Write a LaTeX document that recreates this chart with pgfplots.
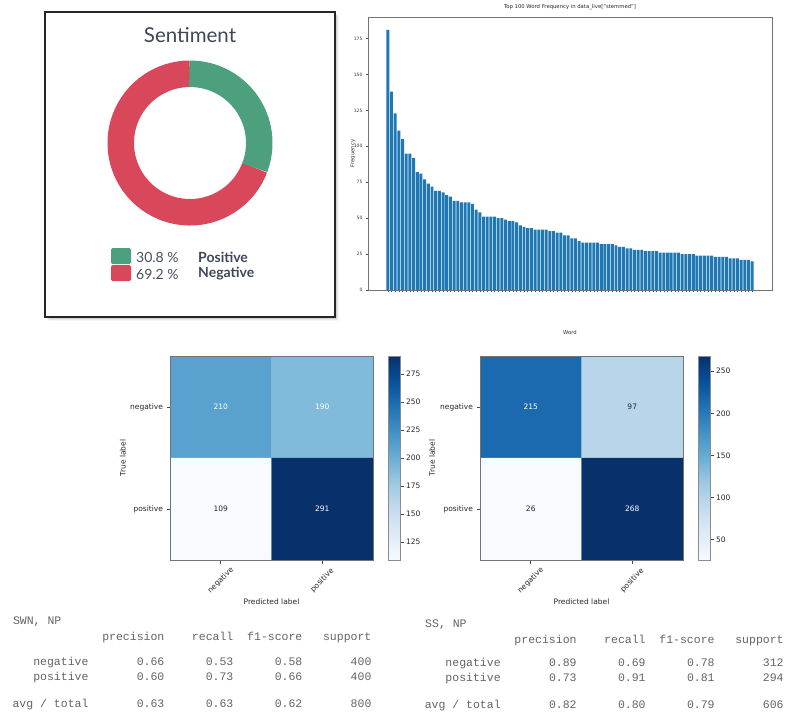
\documentclass[border=0pt]{standalone}
\usepackage{pgfplots}
\pgfplotsset{compat=1.18}
\usepackage{pgfplotstable}
\usepackage{fontspec}
\setmainfont{DejaVu Sans}
\newfontfamily\lato{Lato}
\newfontfamily\mono{Liberation Mono}

\definecolor{posgreen}{RGB}{76,160,126}
\definecolor{negred}{RGB}{217,72,90}
\definecolor{slate}{RGB}{62,72,88}
\definecolor{legtext}{RGB}{70,80,96}
\definecolor{barblue}{RGB}{31,119,180}
\definecolor{tablegray}{RGB}{100,100,100}

\def\pospct{30.8}
\def\negpct{69.2}

\pgfplotstableread{
x y
0 181
1 138
2 123
3 111
4 105
5 95
6 95
7 92
8 82
9 81
10 77
11 74
12 72
13 69
14 69
15 68
16 66
17 65
18 62
19 62
20 61
21 61
22 61
23 60
24 56
25 54
26 51
27 51
28 51
29 51
30 50
31 50
32 49
33 48
34 48
35 47
36 45
37 44
38 43
39 43
40 42
41 42
42 42
43 42
44 41
45 41
46 40
47 40
48 38
49 38
50 36
51 36
52 34
53 33
54 33
55 33
56 33
57 33
58 32
59 32
60 32
61 32
62 31
63 30
64 30
65 29
66 29
67 28
68 28
69 28
70 27
71 27
72 27
73 27
74 26
75 26
76 26
77 26
78 26
79 26
80 25
81 25
82 25
83 25
84 24
85 24
86 24
87 24
88 24
89 23
90 23
91 23
92 23
93 22
94 22
95 22
96 21
97 21
98 21
99 20
}\bardata

\pgfplotstableread{
x y c
0 0 210
1 0 190
0 1 109
1 1 291
}\cmA
\pgfplotstableread{
x y c
0 0 215
1 0 97
0 1 26
1 1 268
}\cmB

\pgfplotsset{
  colormap={blues}{rgb255(0cm)=(247,251,255) rgb255(1cm)=(222,235,247)
    rgb255(2cm)=(198,219,239) rgb255(3cm)=(158,202,225) rgb255(4cm)=(107,174,214)
    rgb255(5cm)=(66,146,198) rgb255(6cm)=(33,113,181) rgb255(7cm)=(8,81,156)
    rgb255(8cm)=(8,48,107)},
  cmstyle/.style={
    scale only axis, width=203pt, height=204pt,
    xmin=-0.5, xmax=1.5, ymin=-0.5, ymax=1.5, y dir=reverse,
    enlargelimits=false, axis on top,
    xtick={0,1}, ytick={0,1},
    xticklabels={negative,positive}, yticklabels={negative,positive},
    xtick pos=left, ytick pos=left, tick align=outside,
    major tick length=3.5pt,
    tick style={black!70, line width=0.6pt},
    axis line style={black!55, line width=0.7pt},
    ticklabel style={font=\fontsize{7.5}{9}\selectfont, text=black!85},
    xticklabel style={yshift=-17pt, rotate=45, anchor=center},
    xlabel={Predicted label}, ylabel={True label},
    label style={font=\fontsize{7.5}{9}\selectfont, text=black!85},
    xlabel style={at={(axis description cs:0.5,-0.206)}, anchor=center},
    colormap name=blues,
  },
  cbstyle/.style={
    at={(parent axis.north east)}, anchor=north west, xshift=7pt,
    scale only axis, width=12pt, height=204pt,
    y dir=normal, xtick=\empty, xlabel={}, ylabel={}, title={},
    ytick pos=right, yticklabel pos=right, tick align=outside,
    major tick length=3pt,
    tick style={black!70, line width=0.6pt},
    axis line style={black!45, line width=0.7pt},
    yticklabel style={font=\fontsize{7.5}{9}\selectfont, text=black!85, xshift=-1pt},
  },
  cellnums/.style={draw=none, mark=none, point meta=explicit symbolic,
    nodes near coords={\ifnum\pgfplotspointmeta>#1 \color{white}\fi\pgfplotspointmeta},
    every node near coord/.append style={anchor=center, font=\fontsize{7.5}{9}\selectfont, text=black!85}},
}

\tikzset{tnode/.style={font=\mono\fontsize{11.5}{13}\selectfont, text=tablegray,
  inner sep=0pt, text height=8pt, text depth=2.3pt}}
\def\cw{6.9pt}
\newcommand\theader[2]{% origin x, y
  \node[tnode, anchor=east] at ({#1pt+22*\cw},-#2pt) {precision};
  \node[tnode, anchor=east] at ({#1pt+32*\cw},-#2pt) {recall};
  \node[tnode, anchor=east] at ({#1pt+42*\cw},-#2pt) {f1-score};
  \node[tnode, anchor=east] at ({#1pt+52*\cw},-#2pt) {support};
}
\newcommand\trow[7]{% origin x, y, label, p, r, f, s
  \node[tnode, anchor=east] at ({#1pt+11*\cw},-#2pt) {#3};
  \node[tnode, anchor=east] at ({#1pt+22*\cw},-#2pt) {#4};
  \node[tnode, anchor=east] at ({#1pt+32*\cw},-#2pt) {#5};
  \node[tnode, anchor=east] at ({#1pt+42*\cw},-#2pt) {#6};
  \node[tnode, anchor=east] at ({#1pt+52*\cw},-#2pt) {#7};
}

\begin{document}
\begin{tikzpicture}
\path[use as bounding box] (0pt,0pt) rectangle (795pt,-715pt);
\fill[white] (0pt,0pt) rectangle (795pt,-715pt);

% ---------- donut panel ----------
\foreach \k/\o in {1/0.10,2/0.08,3/0.06,4/0.04}{
  \fill[black, opacity=\o] ({45pt+\k*1pt},{-12pt-\k*1pt}) rectangle ({335pt+\k*1pt},{-317pt-\k*1pt});
}
\draw[black!85, line width=1.3pt, fill=white] (45pt,-12pt) rectangle (335pt,-317pt);
\node[font=\lato\fontsize{20.5}{24}\selectfont, text=slate] at (190pt,-35pt) {Sentiment};

\begin{axis}[at={(107.5pt,-225.5pt)}, anchor=south west, hide axis,
  scale only axis, width=165pt, height=165pt,
  xmin=-82.5, xmax=82.5, ymin=-82.5, ymax=82.5]
  \addplot[draw=none] coordinates {(0,0)};
  \draw[negred, line width=26.5pt] (axis cs:0,0) ++({90-3.6*\pospct}:69.25pt)
     arc[start angle={90-3.6*\pospct}, delta angle={-3.6*\negpct}, radius=69.25pt];
  \draw[posgreen, line width=26.5pt] (axis cs:0,0) ++(90.5:69.25pt)
     arc[start angle=90.5, delta angle={-3.6*\pospct-0.5}, radius=69.25pt];
\end{axis}

\fill[posgreen, rounded corners=1.5pt] (111pt,-248pt) rectangle (131pt,-264pt);
\fill[negred, rounded corners=1.5pt] (111pt,-265pt) rectangle (131pt,-281pt);
\node[anchor=west, inner sep=0pt, font=\lato\fontsize{14}{16}\selectfont, text=legtext] at (136pt,-257pt) {30.8 \%};
\node[anchor=west, inner sep=0pt, font=\lato\fontsize{14}{16}\selectfont, text=legtext] at (136pt,-274pt) {69.2 \%};
\node[anchor=west, inner sep=0pt, font=\lato\bfseries\fontsize{14}{16}\selectfont, text=slate] at (198pt,-257pt) {Positive};
\node[anchor=west, inner sep=0pt, font=\lato\bfseries\fontsize{14}{16}\selectfont, text=slate] at (198pt,-274pt) {Negative};

% ---------- word frequency bars ----------
\begin{axis}[at={(368pt,-290pt)}, anchor=south west,
  scale only axis, width=404pt, height=273pt,
  xmin=-5.39, xmax=104.39, ymin=0, ymax=190,
  ytick={0,25,...,175}, xtick=data, xticklabels={},
  xtick pos=left, ytick pos=left, tick align=outside, major tick length=2pt,
  tick style={black!70, line width=0.4pt},
  axis line style={black!55, line width=0.6pt},
  ticklabel style={font=\fontsize{4.5}{5}\selectfont, text=black!80},
  /pgf/number format/assume math mode=true,
  title={Top 100 Word Frequency in data\_live["stemmed"]},
  title style={font=\fontsize{5.3}{6}\selectfont, inner sep=1pt, text=black!85},
  ylabel={Frequency}, xlabel={Word},
  label style={font=\fontsize{5.3}{6}\selectfont, text=black!80},
  ylabel style={at={(axis description cs:-0.037,0.5)}, anchor=center},
  xlabel style={at={(axis description cs:0.5,-0.1575)}, anchor=center}]
  \addplot[ybar, bar width=0.8, bar shift=0pt, fill=barblue, draw=none] table[x=x, y=y] {\bardata};
\end{axis}

% ---------- confusion matrix 1 ----------
\begin{axis}[cmstyle, at={(170pt,-560pt)}, anchor=south west,
  point meta min=109, point meta max=291,
  ylabel style={at={(axis description cs:-0.232,0.5)}, anchor=center},
  colorbar, colorbar style={cbstyle, ymin=109, ymax=291,
    ytick={125,150,175,200,225,250,275},
    yticklabels={125,150,175,200,225,250,275}}]
  \addplot[matrix plot*, mesh/cols=2, point meta=explicit] table[x=x, y=y, meta=c] {\cmA};
  \addplot[cellnums=145] table[x=x, y=y, meta=c] {\cmA};
\end{axis}

% ---------- confusion matrix 2 ----------
\begin{axis}[cmstyle, at={(480pt,-560pt)}, anchor=south west,
  point meta min=26, point meta max=268,
  ylabel style={at={(axis description cs:-0.236,0.5)}, anchor=center},
  colorbar, colorbar style={cbstyle, ymin=26, ymax=268,
    ytick={50,100,150,200,250},
    yticklabels={50,100,150,200,250}}]
  \addplot[matrix plot*, mesh/cols=2, point meta=explicit] table[x=x, y=y, meta=c] {\cmB};
  \addplot[cellnums=134] table[x=x, y=y, meta=c] {\cmB};
\end{axis}

% ---------- classification reports ----------
\node[tnode, anchor=west] at (12.8pt,-622pt) {SWN, NP};
\theader{12.8}{638}
\trow{12.8}{663}{negative}{0.66}{0.53}{0.58}{400}
\trow{12.8}{678}{positive}{0.60}{0.73}{0.66}{400}
\trow{12.8}{705}{avg / total}{0.63}{0.63}{0.62}{800}

\node[tnode, anchor=west] at (425pt,-625pt) {SS, NP};
\theader{425}{641}
\trow{425}{664}{negative}{0.89}{0.69}{0.78}{312}
\trow{425}{679}{positive}{0.73}{0.91}{0.81}{294}
\trow{425}{706}{avg / total}{0.82}{0.80}{0.79}{606}
\end{tikzpicture}
\end{document}
